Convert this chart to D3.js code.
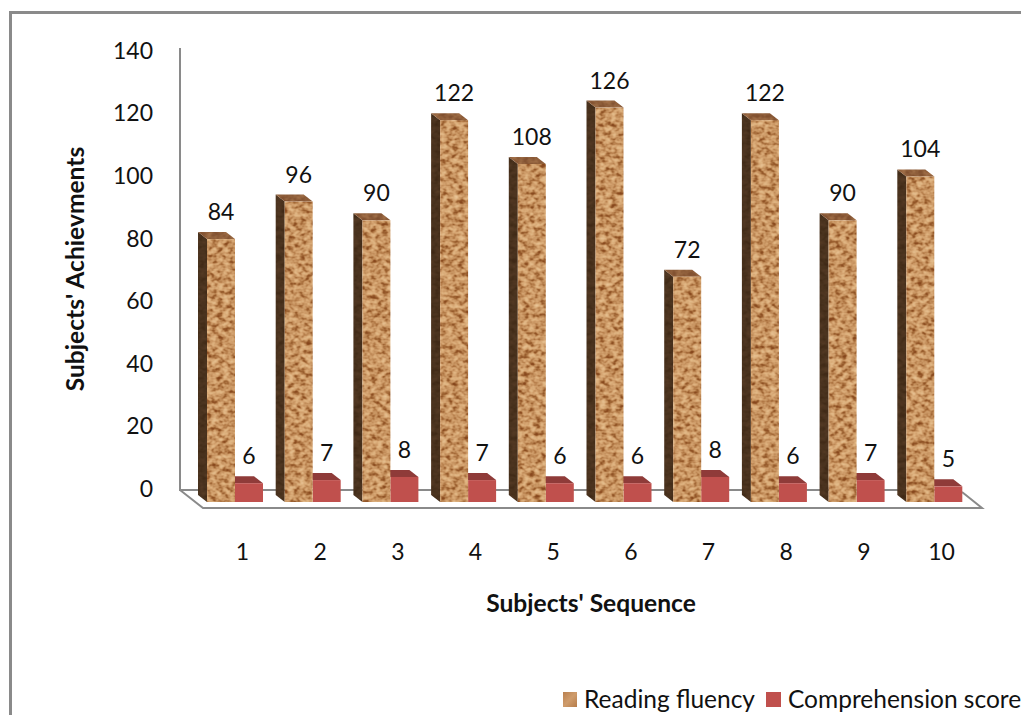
<!DOCTYPE html>
<html>
<head>
<meta charset="utf-8">
<script src="https://cdn.jsdelivr.net/npm/d3@7/dist/d3.min.js"></script>
<style>
html,body{margin:0;padding:0;background:#fff;overflow:hidden}
svg{display:block}
text{font-family:Lato,"Open Sans",sans-serif;fill:#111}
</style>
</head>
<body>
<svg id="chart" width="1021" height="715"></svg>
<script>
// Chart values
const subjects = ["1","2","3","4","5","6","7","8","9","10"];
const readingFluency = [84,96,90,122,108,126,72,122,90,104];
const comprehensionScore = [6,7,8,7,6,6,8,6,7,5];
const valueTicks = [0,20,40,60,80,100,120,140];
const seriesNames = ["Reading fluency","Comprehension score"];

const svg = d3.select("#chart");
const gray = "#8a8a8a";
const depth = {x:-9, y:-7};
const barW = 28;

// Front plane of the bars, and the back wall that carries the value axis
const y = d3.scaleLinear().domain([0,140]).range([502,63.8]);
const yWall = d3.scaleLinear().domain([0,140]).range([489,51]);
const x = d3.scaleBand().domain(subjects).range([207,984]).paddingInner(0).paddingOuter(0);

// Cork texture filters: noise is remapped onto a brown ramp, clipped to the shape
const defs = svg.append("defs");
function cork(id, seed, r, g, b){
  const f = defs.append("filter").attr("id",id)
    .attr("x",0).attr("y",0).attr("width",1).attr("height",1)
    .attr("color-interpolation-filters","sRGB");
  f.append("feTurbulence").attr("type","fractalNoise")
    .attr("baseFrequency","0.17 0.22").attr("numOctaves",2).attr("seed",seed).attr("result","n");
  f.append("feColorMatrix").attr("in","n").attr("type","matrix")
    .attr("values","1 0 0 0 0 1 0 0 0 0 1 0 0 0 0 0 0 0 0 1").attr("result","g");
  const t = f.append("feComponentTransfer").attr("in","g").attr("result","c");
  t.append("feFuncR").attr("type","table").attr("tableValues",r);
  t.append("feFuncG").attr("type","table").attr("tableValues",g);
  t.append("feFuncB").attr("type","table").attr("tableValues",b);
  f.append("feComposite").attr("in","c").attr("in2","SourceAlpha").attr("operator","in");
}
cork("corkFront",7,
  "0.52 0.52 0.55 0.62 0.72 0.79 0.84 0.87 0.89 0.91 0.92",
  "0.27 0.27 0.30 0.39 0.50 0.59 0.65 0.70 0.73 0.76 0.78",
  "0.11 0.11 0.13 0.20 0.30 0.39 0.45 0.50 0.54 0.58 0.60");
cork("corkSide",11,
  "0.25 0.25 0.27 0.29 0.31 0.33 0.35",
  "0.16 0.16 0.18 0.20 0.21 0.23 0.25",
  "0.09 0.09 0.10 0.12 0.13 0.14 0.15");
cork("corkTop",5,
  "0.50 0.50 0.52 0.56 0.60 0.64 0.66",
  "0.31 0.31 0.33 0.37 0.41 0.44 0.46",
  "0.18 0.18 0.20 0.23 0.26 0.29 0.31");
const swatch = defs.append("linearGradient").attr("id","corkSwatch").attr("x1",0).attr("x2",1).attr("y1",0).attr("y2",1);
swatch.append("stop").attr("offset",0).attr("stop-color","#b9804f");
swatch.append("stop").attr("offset",0.5).attr("stop-color","#cf9c6c");
swatch.append("stop").attr("offset",1).attr("stop-color","#b67c4a");

// Outer frame, running off the top right and bottom left
svg.append("path").attr("d","M10.5,715V12.5H1021").attr("fill","none").attr("stroke",gray).attr("stroke-width",3);

// Walls and floor outline
svg.append("path")
  .attr("d","M180,48V490H962M180,490L203,508H982L962,492")
  .attr("fill","none").attr("stroke",gray).attr("stroke-width",2);

// Value axis labels
const yAxis = d3.axisLeft(yWall).tickValues(valueTicks).tickSize(0).tickPadding(0);
const gy = svg.append("g").attr("transform","translate(153,0)").call(yAxis);
gy.select(".domain").remove();
gy.selectAll("text").style("font-size","23px").style("font-family","Lato").attr("fill","#111");

// Category labels
const xAxis = d3.axisBottom(d3.scalePoint().domain(subjects).range([242,941])).tickSize(0).tickPadding(0);
const gx = svg.append("g").attr("transform","translate(0,544)").call(xAxis);
gx.select(".domain").remove();
gx.selectAll("text").style("font-size","23px").style("font-family","Lato").attr("fill","#111");

// Draws one 3D bar from its value: side, top, then front face
function bar3d(g, left, value, fills){
  const top = y(value), bottom = y(0);
  const pts = a => a.map(p => p.join(",")).join(" ");
  if (fills.side) g.append("polygon")
    .attr("points",pts([[left,top],[left+depth.x,top+depth.y],[left+depth.x,bottom+depth.y],[left,bottom]]))
    .attr("fill",fills.side).attr("filter",fills.sideFilter||null);
  g.append("polygon")
    .attr("points",pts([[left,top],[left+depth.x,top+depth.y],[left+barW+depth.x,top+depth.y],[left+barW,top]]))
    .attr("fill",fills.top).attr("filter",fills.topFilter||null);
  g.append("rect").attr("x",left).attr("y",top).attr("width",barW).attr("height",bottom-top)
    .attr("fill",fills.front).attr("filter",fills.frontFilter||null);
}

const marks = svg.append("g");
subjects.forEach((s,i) => {
  const left = x(s);
  const g = marks.append("g");
  bar3d(g, left+barW, comprehensionScore[i], {top:"#8f3b39", front:"#c0504d"});
  bar3d(g, left, readingFluency[i], {
    side:"#4e3623", sideFilter:"url(#corkSide)",
    top:"#8a5c38", topFilter:"url(#corkTop)",
    front:"#cf9c6c", frontFilter:"url(#corkFront)"
  });
});

// Value labels above each bar
const labels = svg.append("g").attr("text-anchor","middle").style("font-size","23px");
subjects.forEach((s,i) => {
  labels.append("text").attr("x",x(s)+barW/2).attr("y",y(readingFluency[i])+depth.y-12).text(readingFluency[i]);
  labels.append("text").attr("x",x(s)+barW*1.5).attr("y",y(comprehensionScore[i])+depth.y-12).text(comprehensionScore[i]);
});

// Axis titles
svg.append("text").attr("x",591).attr("y",612).attr("text-anchor","middle")
  .style("font-size","24.6px").style("font-weight","700").text("Subjects' Sequence");
svg.append("text").attr("transform","translate(84,269) rotate(-90)").attr("text-anchor","middle")
  .style("font-size","24.6px").style("font-weight","700").text("Subjects' Achievments");

// Legend
svg.append("rect").attr("x",563).attr("y",692).attr("width",14).attr("height",15).attr("fill","url(#corkSwatch)");
svg.append("text").attr("x",584).attr("y",708).style("font-size","24.5px").text(seriesNames[0]);
svg.append("rect").attr("x",766).attr("y",692).attr("width",15).attr("height",15).attr("fill","#c0504d");
svg.append("text").attr("x",788).attr("y",708).style("font-size","24.5px").text(seriesNames[1]);
</script>
</body>
</html>
